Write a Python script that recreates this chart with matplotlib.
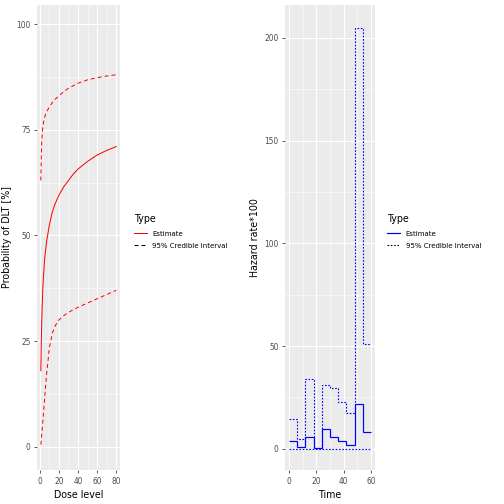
import numpy as np
from matplotlib import pyplot as plt
from matplotlib.lines import Line2D

# left panel: probability of DLT vs dose
dose = [1, 1.5, 2, 3, 4, 5, 7, 10, 13, 16, 20, 25, 30, 35, 40, 50, 60, 70, 80]
est = [18, 25, 30, 37, 41, 44.5, 48.5, 52.5, 55.5, 57.5, 59.5, 61.5, 63, 64.5, 65.7, 67.5, 69, 70.1, 71]
upper = [63, 69, 72.5, 75.5, 77, 78, 79.2, 80.4, 81.4, 82.2, 83, 84, 84.8, 85.4, 86, 86.8, 87.3, 87.7, 88]
lower = [0.5, 1.5, 3, 5.5, 8.5, 11.5, 17, 23.5, 26.8, 28.6, 30, 31, 31.8, 32.4, 33, 34, 35, 36, 37]

# right panel: piecewise hazard
time_edges = [0, 6, 12, 18, 24, 30, 36, 42, 48, 54, 60]
haz_est = [4, 1, 6, 0.5, 9.5, 6, 4, 2, 22, 8.3]
haz_upper = [14.5, 4.8, 34, 0.3, 31, 29.6, 23, 17.4, 205, 51]
haz_lower = [0, 0, 0, 0, 0, 0, 0, 0, 0, 0]

W = 504.0
fig = plt.figure(figsize=(7, 7), dpi=72)
bg = '#EBEBEB'


def style(ax):
    ax.set_facecolor(bg)
    for s in ax.spines.values():
        s.set_visible(False)
    ax.grid(True, which='major', color='white', lw=1.1)
    ax.grid(True, which='minor', color='white', lw=0.5)
    ax.set_axisbelow(True)
    ax.tick_params(which='major', colors='#333333', labelcolor='#4D4D4D', labelsize=7.5, length=3)
    ax.tick_params(which='minor', length=0)


def legend(x, handles):
    lg = fig.legend(handles, ['Estimate', '95% Credible Interval'], title='Type',
                    loc='upper left', bbox_to_anchor=(x / W, 1 - 208 / W), frameon=False,
                    fontsize=7, title_fontsize=9.5, handlelength=1.8, alignment='left',
                    labelspacing=0.9)
    return lg


ax1 = fig.add_axes([37 / W, 34 / W, 83 / W, 465 / W])
style(ax1)
ax1.plot(dose, est, color='red', lw=1)
ax1.plot(dose, upper, color='red', lw=1, ls=(0, (4, 3)))
ax1.plot(dose, lower, color='red', lw=1, ls=(0, (4, 3)))
ax1.set_xlim(-3, 84)
ax1.set_ylim(-5.5, 104.5)
ax1.set_xticks([0, 20, 40, 60, 80])
ax1.set_xticks([10, 30, 50, 70], minor=True)
ax1.set_yticks([0, 25, 50, 75, 100])
ax1.set_yticks([12.5, 37.5, 62.5, 87.5], minor=True)
ax1.set_xlabel('Dose level', fontsize=9.5)
ax1.set_ylabel('Probability of DLT [%]', fontsize=9.5)
legend(128, [Line2D([], [], color='red', lw=1),
             Line2D([], [], color='black', ls=(0, (4, 3)), lw=1)])

ax2 = fig.add_axes([285 / W, 34 / W, 90 / W, 465 / W])
style(ax2)
ax2.stairs(haz_est, time_edges, color='blue', lw=1.2, baseline=None)
ax2.stairs(haz_upper, time_edges, color='blue', lw=1.1, ls=(0, (1.5, 1.5)), baseline=None)
ax2.stairs(haz_lower, time_edges, color='blue', lw=1.1, ls=(0, (1.5, 1.5)), baseline=None)
ax2.set_xlim(-3, 63)
ax2.set_ylim(-10.3, 216)
ax2.set_xticks([0, 20, 40, 60])
ax2.set_xticks([10, 30, 50], minor=True)
ax2.set_yticks([0, 50, 100, 150, 200])
ax2.set_yticks([25, 75, 125, 175], minor=True)
ax2.set_xlabel('Time', fontsize=9.5)
ax2.set_ylabel('Hazard rate*100', fontsize=9.5)
legend(381, [Line2D([], [], color='blue', lw=1.2),
             Line2D([], [], color='black', ls=(0, (1.5, 1.5)), lw=1.1)])

fig.savefig('out.png', dpi=72)
